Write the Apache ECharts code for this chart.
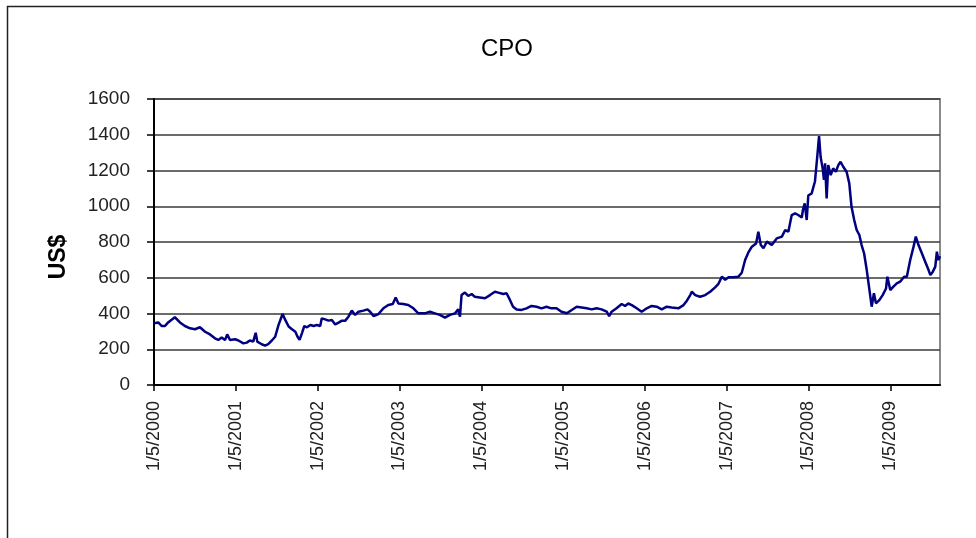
<!DOCTYPE html>
<html>
<head>
<meta charset="utf-8">
<title>CPO</title>
<script src="https://cdn.jsdelivr.net/npm/echarts@6/dist/echarts.min.js"></script>
<style>
    html, body { margin: 0; padding: 0; background: #fff; }
    #chart { width: 976px; height: 538px; }
</style>
</head>
<body>
<div id="chart"></div>
<script>
// CPO price, US$
const dates = [
    '2000-01-05', '2000-01-24', '2000-02-08', '2000-02-23', '2000-03-08', '2000-04-07', '2000-04-30', '2000-05-22',
    '2000-06-14', '2000-07-06', '2000-07-28', '2000-08-20', '2000-09-11', '2000-10-03', '2000-10-18', '2000-11-02',
    '2000-11-17', '2000-11-27', '2000-12-09', '2001-01-01', '2001-01-16', '2001-02-07', '2001-02-22', '2001-03-08',
    '2001-03-23', '2001-04-03', '2001-04-10', '2001-04-30', '2001-05-15', '2001-05-29', '2001-06-14', '2001-06-29',
    '2001-07-14', '2001-08-01', '2001-08-13', '2001-08-28', '2001-09-12', '2001-09-27', '2001-10-07', '2001-10-16',
    '2001-10-27', '2001-11-06', '2001-11-18', '2001-12-03', '2001-12-18', '2002-01-01', '2002-01-16', '2002-01-23',
    '2002-02-07', '2002-02-22', '2002-03-09', '2002-03-24', '2002-04-08', '2002-04-23', '2002-05-08', '2002-05-22',
    '2002-06-06', '2002-06-21', '2002-07-06', '2002-07-28', '2002-08-15', '2002-08-27', '2002-09-11', '2002-10-03',
    '2002-10-25', '2002-11-16', '2002-12-06', '2002-12-19', '2002-12-31', '2003-01-22', '2003-02-13', '2003-03-08',
    '2003-03-30', '2003-04-06', '2003-04-28', '2003-05-21', '2003-06-12', '2003-07-04', '2003-07-27', '2003-08-18',
    '2003-09-10', '2003-09-24', '2003-10-02', '2003-10-09', '2003-10-24', '2003-11-08', '2003-11-23', '2003-12-07',
    '2003-12-29', '2004-01-22', '2004-02-13', '2004-03-06', '2004-03-21', '2004-04-12', '2004-04-27', '2004-05-12',
    '2004-05-26', '2004-06-11', '2004-07-03', '2004-07-25', '2004-08-16', '2004-09-08', '2004-09-30', '2004-10-22',
    '2004-11-13', '2004-12-06', '2004-12-28', '2005-01-21', '2005-02-12', '2005-03-06', '2005-03-28', '2005-04-20',
    '2005-05-12', '2005-06-03', '2005-06-25', '2005-07-18', '2005-07-29', '2005-08-09', '2005-08-31', '2005-09-23',
    '2005-10-08', '2005-10-22', '2005-11-07', '2005-11-29', '2005-12-21', '2006-01-13', '2006-02-04', '2006-02-26',
    '2006-03-21', '2006-04-12', '2006-05-04', '2006-06-03', '2006-06-11', '2006-06-26', '2006-07-11', '2006-07-26',
    '2006-08-02', '2006-08-17', '2006-09-08', '2006-10-01', '2006-10-23', '2006-11-14', '2006-11-29', '2006-12-14',
    '2006-12-29', '2007-01-13', '2007-02-04', '2007-02-26', '2007-03-13', '2007-03-28', '2007-04-11', '2007-04-27',
    '2007-05-16', '2007-05-26', '2007-06-06', '2007-06-18', '2007-07-03', '2007-07-25', '2007-08-16', '2007-09-08',
    '2007-09-23', '2007-10-07', '2007-10-22', '2007-11-06', '2007-11-20', '2007-12-06', '2007-12-11', '2007-12-19',
    '2007-12-28', '2008-01-04', '2008-01-19', '2008-02-03', '2008-02-13', '2008-02-21', '2008-02-28', '2008-03-08',
    '2008-03-14', '2008-03-19', '2008-03-26', '2008-04-02', '2008-04-13', '2008-04-24', '2008-05-06', '2008-05-17',
    '2008-05-27', '2008-06-08', '2008-06-23', '2008-07-05', '2008-07-15', '2008-07-27', '2008-08-07', '2008-08-19',
    '2008-08-29', '2008-09-09', '2008-09-21', '2008-10-01', '2008-10-13', '2008-10-23', '2008-11-01', '2008-11-16',
    '2008-12-01', '2008-12-16', '2008-12-22', '2009-01-04', '2009-01-18', '2009-02-02', '2009-02-17', '2009-03-07',
    '2009-03-19', '2009-04-03', '2009-04-18', '2009-04-28', '2009-05-10', '2009-05-25', '2009-06-09', '2009-06-24',
    '2009-07-02', '2009-07-13', '2009-07-24', '2009-07-31', '2009-08-07', '2009-08-14'
];
const prices = [
    345, 350, 330, 330, 350, 379, 350, 330,
    317, 312, 323, 298, 283, 261, 252, 266,
    252, 283, 252, 256, 249, 233, 237, 249,
    243, 292, 243, 228, 220, 229, 249, 270,
    336, 397, 364, 327, 312, 298, 270, 252,
    292, 330, 323, 336, 330, 336, 330, 373,
    367, 360, 364, 339, 349, 360, 360, 382,
    416, 392, 410, 416, 423, 410, 386, 397,
    429, 448, 453, 490, 456, 453, 448, 429,
    401, 404, 401, 410, 401, 392, 377, 392,
    401, 423, 382, 503, 517, 498, 509, 494,
    490, 485, 503, 522, 517, 509, 513, 476,
    438, 423, 420, 429, 442, 438, 429, 438,
    429, 429, 410, 401, 420, 438, 434, 429,
    423, 429, 423, 410, 386, 410, 429, 453,
    442, 456, 447, 429, 410, 429, 442, 438,
    423, 438, 434, 429, 433, 447, 472, 503,
    522, 503, 494, 503, 522, 546, 566, 606,
    589, 603, 603, 606, 628, 699, 740, 774,
    792, 858, 783, 765, 802, 783, 820, 830,
    867, 858, 951, 960, 951, 937, 979, 1016,
    923, 1060, 1072, 1140, 1277, 1393, 1277, 1212,
    1147, 1240, 1044, 1230, 1174, 1212, 1193, 1230,
    1249, 1221, 1193, 1128, 997, 923, 867, 839,
    783, 737, 643, 550, 438, 513, 457, 475,
    503, 540, 606, 531, 550, 568, 578, 606,
    606, 699, 774, 830, 783, 737, 690, 643,
    615, 634, 662, 746, 699, 720
];
// x ticks: one per year, labelled 1/5/yyyy
const tickYears = [2000, 2001, 2002, 2003, 2004, 2005, 2006, 2007, 2008, 2009];
const startDate = '2000-01-05';
const endDate = '2009-08-14';

const YEAR_MS = 365.25 * 86400000;
const toYears = (d) => (Date.parse(d) - Date.parse(startDate)) / YEAR_MS;

const seriesData = dates.map((d, i) => [toYears(d), prices[i]]);
const tickValues = tickYears.map((y) => y - tickYears[0]);

const chart = echarts.init(document.getElementById('chart'));

chart.setOption({
    animation: false,
    backgroundColor: '#fff',
    textStyle: { fontFamily: '"Liberation Sans", Arial, sans-serif' },
    title: {
        text: 'CPO',
        left: 476,
        top: 32,
        textStyle: {
            fontSize: 24,
            fontWeight: 'normal',
            color: '#000',
            fontFamily: '"Liberation Sans", Arial, sans-serif',
        },
    },
    graphic: [
        {
            type: 'rect',
            shape: { x: 7.5, y: 6.5, width: 1000, height: 600 },
            style: { fill: 'none', stroke: '#222', lineWidth: 1.5 },
            silent: true,
        },
        {
            type: 'text',
            x: 59,
            y: 257,
            rotation: Math.PI / 2,
            style: {
                text: 'US$',
                fontSize: 23,
                fontWeight: 'bold',
                fontFamily: '"Liberation Sans", Arial, sans-serif',
                fill: '#000',
                align: 'center',
                verticalAlign: 'middle',
            },
        },
    ],
    grid: {
        left: 154,
        right: 36,
        top: 99,
        bottom: 153,
        show: true,
        borderColor: '#8a8a8a',
        borderWidth: 2,
    },
    xAxis: {
        type: 'value',
        min: 0,
        max: toYears(endDate),
        interval: 1,
        axisLine: { show: true, onZero: false, lineStyle: { color: '#000', width: 2 } },
        axisTick: {
            show: true,
            length: 6,
            customValues: tickValues,
            lineStyle: { color: '#000', width: 1.5 },
        },
        splitLine: { show: false },
        axisLabel: {
            rotate: 90,
            margin: 16,
            fontSize: 18,
            color: '#222',
            customValues: tickValues,
            formatter: (v) => `1/5/${tickYears[0] + Math.round(v)}`,
        },
    },
    yAxis: {
        type: 'value',
        min: 0,
        max: 1600,
        interval: 200,
        axisLine: { show: true, lineStyle: { color: '#000', width: 2 } },
        axisTick: { show: true, length: 7, lineStyle: { color: '#000', width: 1.5 } },
        splitLine: { show: true, lineStyle: { color: '#3a3a3a', width: 1.5 } },
        axisLabel: {
            margin: 24,
            fontSize: 19,
            color: '#222',
            formatter: (v) => String(v),
        },
    },
    series: [
        {
            type: 'line',
            data: seriesData,
            showSymbol: false,
            lineStyle: { color: '#000080', width: 2.5 },
            itemStyle: { color: '#000080' },
        },
    ],
});
</script>
</body>
</html>
